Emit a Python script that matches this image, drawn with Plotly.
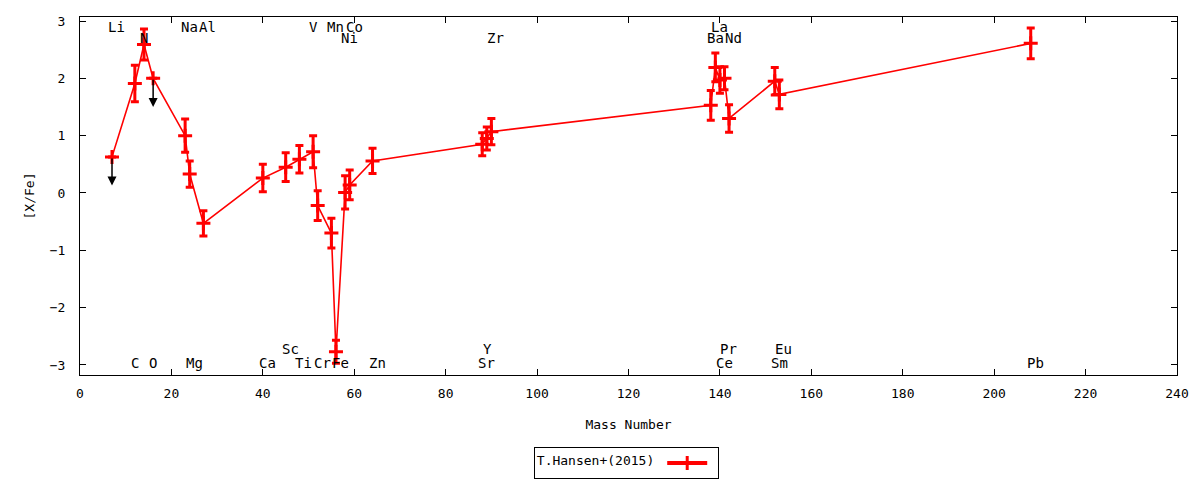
import plotly.graph_objects as go

# ---- data ----
elements = ["Li", "C", "N", "O", "Na", "Mg", "Al", "Ca", "Sc", "Ti", "V", "Cr", "Mn", "Fe",
            "Ni", "Co", "Zn", "Sr", "Y", "Zr", "Ba", "La", "Ce", "Pr", "Nd", "Sm", "Eu", "Pb"]
mass = [7, 12, 14, 16, 23, 24, 27, 40, 45, 48, 51, 52, 55, 56,
        58, 59, 64, 88, 89, 90, 138, 139, 140, 141, 142, 152, 153, 208]
xfe = [0.63, 1.91, 2.59, 2.00, 1.00, 0.33, -0.53, 0.26, 0.45, 0.59, 0.72, -0.22, -0.70, -2.77,
       0.01, 0.14, 0.56, 0.85, 0.95, 1.07, 1.53, 2.19, 1.97, 2.00, 1.30, 1.95, 1.72, 2.61]
xfe_err = [0.0, 0.32, 0.27, 0.0, 0.29, 0.23, 0.22, 0.24, 0.25, 0.24, 0.28, 0.26, 0.26, 0.20,
           0.29, 0.26, 0.22, 0.20, 0.20, 0.23, 0.26, 0.25, 0.23, 0.20, 0.24, 0.24, 0.25, 0.27]
upper_limits = ["Li", "O"]
series_name = "T.Hansen+(2015)"
x_ticks = [0, 20, 40, 60, 80, 100, 120, 140, 160, 180, 200, 220, 240]
y_ticks = [-3, -2, -1, 0, 1, 2, 3]

# ---- layout of element labels (row levels) ----
label_rows = {
    "top": ["Li", "Na", "Al", "V", "Mn", "Co", "La"],
    "top2": ["N", "Ni", "Zr", "Ba", "Nd"],
    "bot2": ["Sc", "Y", "Pr", "Eu"],
    "bot": ["C", "O", "Mg", "Ca", "Ti", "Cr", "Fe", "Zn", "Sr", "Ce", "Sm", "Pb"],
}
row_y = {"top": 2.89, "top2": 2.70, "bot2": -2.72, "bot": -2.97}

FONT = "DejaVu Sans Mono"
RED = "#ff0000"

fig = go.Figure()
fig.add_trace(go.Scatter(
    x=mass, y=xfe, mode="lines+markers", showlegend=False,
    line=dict(color=RED, width=1.6),
    marker=dict(symbol="cross-thin", size=10, line=dict(color=RED, width=3), color=RED),
    error_y=dict(type="data", array=xfe_err, visible=True, color=RED, thickness=3, width=4),
))
# legend entry
fig.add_trace(go.Scatter(
    x=[None], y=[None], mode="lines+markers", name="",
    line=dict(color=RED, width=4),
    marker=dict(symbol="cross-thin", size=10, line=dict(color=RED, width=3), color=RED),
))

# upper-limit arrows
for el, m, v in zip(elements, mass, xfe):
    if el in upper_limits:
        fig.add_annotation(x=m, y=v - 0.5, ax=m, ay=v, xref="x", yref="y", axref="x", ayref="y",
                           showarrow=True, arrowhead=2, arrowsize=1.2, arrowwidth=1.5,
                           arrowcolor="black", text="")

# element labels
for row, els in label_rows.items():
    for el in els:
        m = mass[elements.index(el)]
        fig.add_annotation(x=m, y=row_y[row], xref="x", yref="y", text=el, showarrow=False,
                           xanchor="left", yanchor="middle", xshift=-6,
                           font=dict(family=FONT, size=14, color="black"))

axis_common = dict(showline=True, linecolor="black", linewidth=1, mirror="allticks",
                   ticks="inside", ticklen=6, tickcolor="black", showgrid=False, zeroline=False,
                   automargin=False,
                   tickfont=dict(family=FONT, size=13, color="black"))
fig.update_xaxes(range=[0, 240], tickvals=x_ticks, ticklabelstandoff=6, **axis_common,
                 title=dict(text="Mass Number", font=dict(family=FONT, size=13, color="black"), standoff=20))
fig.update_yaxes(range=[-3.175, 3.07], tickvals=y_ticks, ticklabelstandoff=11, **axis_common,
                 title=dict(text="[X/Fe]", font=dict(family=FONT, size=13, color="black"), standoff=12))

fig.update_layout(
    width=1184, height=472,
    margin=dict(l=72, r=15, t=9, b=105, autoexpand=False),
    paper_bgcolor="white", plot_bgcolor="white",
    font=dict(family=FONT, size=13, color="black"),
    legend=dict(orientation="h", x=0.498, xanchor="center", xref="paper",
                y=0.036, yanchor="middle", yref="container",
                bordercolor="black", borderwidth=1, bgcolor="white",
                title=dict(text=series_name, side="left", font=dict(family=FONT, size=13, color="black")),
                font=dict(family=FONT, size=13), itemwidth=40),
)

fig.write_html("out.html")
